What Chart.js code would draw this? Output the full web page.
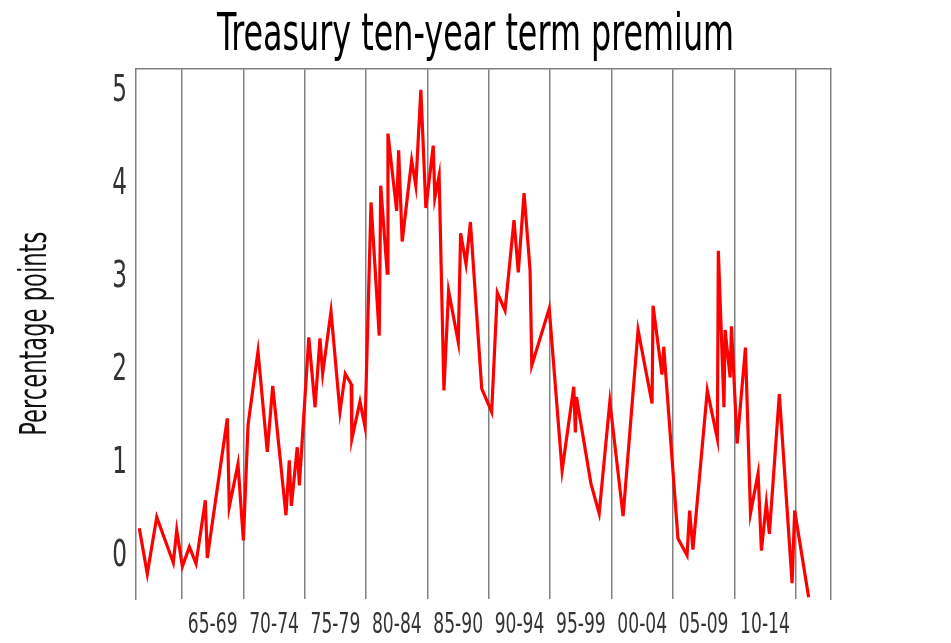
<!DOCTYPE html>
<html>
<head>
<meta charset="utf-8">
<title>Treasury ten-year term premium</title>
<script src="https://cdn.jsdelivr.net/npm/chart.js@4.4.1/dist/chart.umd.min.js"></script>
<style>
    html, body { margin: 0; padding: 0; background: #fff; }
    #wrap { width: 951px; height: 643px; }
</style>
</head>
<body>
<div id="wrap"><canvas id="premiumChart"></canvas></div>
<script>
// Datas (anos decimais) e prêmio de prazo
const years = [
    1961.52, 1962.17, 1962.94, 1964.29, 1964.57, 1965.03, 1965.60, 1966.14, 1966.90, 1967.06,
    1968.69, 1968.85, 1969.56, 1970.00, 1970.38, 1971.19, 1971.95, 1972.39, 1973.47, 1973.74,
    1973.91, 1974.39, 1974.56, 1975.33, 1975.84, 1976.24, 1976.46, 1977.14, 1977.87, 1978.30,
    1978.78, 1978.84, 1979.50, 1979.91, 1980.40, 1981.07, 1981.19, 1981.72, 1981.78, 1982.49,
    1982.65, 1982.94, 1983.71, 1984.05, 1984.46, 1984.87, 1985.47, 1985.60, 1985.95, 1986.34,
    1986.72, 1987.51, 1987.70, 1988.14, 1988.50, 1989.42, 1990.23, 1990.69, 1991.32, 1992.05,
    1992.40, 1992.87, 1993.36, 1993.50, 1994.92, 1995.97, 1996.92, 1997.05, 1997.14, 1998.32,
    1998.99, 1999.86, 2000.94, 2002.16, 2003.30, 2003.38, 2004.11, 2004.25, 2005.41, 2006.15,
    2006.36, 2006.63, 2007.80, 2008.62, 2008.70, 2009.16, 2009.25, 2009.66, 2009.77, 2010.23,
    2010.91, 2011.32, 2011.94, 2012.21, 2012.61, 2012.86, 2013.67, 2014.71, 2014.92, 2016.06
];
const premium = [
    0.30, -0.19, 0.42, -0.07, 0.28, -0.11, 0.10, -0.08, 0.60, -0.02,
    1.48, 0.53, 0.99, 0.17, 1.41, 2.20, 1.12, 1.83, 0.44, 1.03,
    0.54, 1.17, 0.76, 2.35, 1.60, 2.34, 1.96, 2.63, 1.55, 1.96,
    1.85, 1.26, 1.66, 1.39, 3.80, 2.37, 3.98, 3.04, 4.54, 3.71,
    4.36, 3.38, 4.25, 3.98, 5.01, 3.74, 4.41, 3.85, 4.09, 1.78,
    2.85, 2.30, 3.47, 3.14, 3.59, 1.80, 1.55, 2.83, 2.64, 3.61,
    3.05, 3.90, 3.07, 2.05, 2.66, 0.92, 1.82, 1.33, 1.71, 0.78,
    0.46, 1.66, 0.43, 2.43, 1.64, 2.69, 1.95, 2.25, 0.19, 0.01,
    0.49, 0.07, 1.78, 1.26, 3.28, 1.60, 2.43, 1.92, 2.47, 1.21,
    2.24, 0.46, 0.89, 0.06, 0.57, 0.24, 1.74, -0.29, 0.49, -0.44
];

// Eixos: linhas verticais a cada 5 anos, rótulos no meio de cada período
const gridYears = [1965, 1970, 1975, 1980, 1985, 1990, 1995, 2000, 2005, 2010, 2015];
const labelYears = [1967.5, 1972.5, 1977.5, 1982.5, 1987.5, 1992.5, 1997.5, 2002.5, 2007.5, 2012.5];
const periodLabels = ['65-69', '70-74', '75-79', '80-84', '85-90', '90-94', '95-99', '00-04', '05-09', '10-14'];
const yTicks = [0, 1, 2, 3, 4, 5];
const xMin = 1961.25, xMax = 2017.88;
const yMin = -0.46, yMax = 5.24;

const FONT = "'DejaVu Sans Condensed', 'DejaVu Sans', sans-serif";
const LINE_GRAY = '#808080';

const ctx = document.getElementById('premiumChart').getContext('2d');

// Sem fonte estreita instalada: o texto é comprimido na horizontal
const TEXT_CONDENSE = 0.68;
const nativeFillText = ctx.fillText.bind(ctx);
ctx.fillText = (text, x, y, maxWidth) => {
    const w = ctx.measureText(text).width * TEXT_CONDENSE;
    nativeFillText(text, x, y, maxWidth === undefined ? w : Math.min(w, maxWidth));
};

new Chart(ctx, {
    type: 'line',
    data: {
        datasets: [{
            label: 'Term premium',
            data: years.map((x, i) => ({ x: x, y: premium[i] })),
            borderColor: '#ff0000',
            borderWidth: 3.2,
            pointRadius: 0,
            tension: 0,
            fill: false,
            xAxisID: 'x',
            yAxisID: 'y'
        }]
    },
    options: {
        responsive: true,
        maintainAspectRatio: false,
        animation: false,
        layout: {
            padding: 0
        },
        plugins: {
            legend: { display: false },
            tooltip: { enabled: false },
            title: {
                display: true,
                text: 'Treasury ten-year term premium',
                color: '#000',
                font: { family: FONT, size: 52, weight: 'normal' },
                padding: { top: 5, bottom: 1 }
            }
        },
        scales: {
            x: {
                type: 'linear',
                position: 'bottom',
                min: xMin,
                max: xMax,
                afterBuildTicks: scale => {
                    scale.ticks = labelYears.map(v => ({ value: v }));
                },
                afterFit: scale => { scale.height = 44; },
                ticks: {
                    autoSkip: false,
                    maxRotation: 0,
                    padding: 10,
                    color: '#333',
                    font: { family: FONT, size: 28 },
                    callback: (value, index) => periodLabels[index]
                },
                grid: { display: false, drawTicks: false },
                border: { display: false }
            },
            xGrid: {
                type: 'linear',
                position: 'top',
                min: xMin,
                max: xMax,
                afterBuildTicks: scale => {
                    scale.ticks = gridYears.map(v => ({ value: v }));
                },
                ticks: { display: false },
                grid: { display: true, color: LINE_GRAY, lineWidth: 1.5, drawTicks: false },
                border: { display: true, color: LINE_GRAY, width: 1.5 }
            },
            y: {
                type: 'linear',
                position: 'left',
                min: yMin,
                max: yMax,
                afterBuildTicks: scale => {
                    scale.ticks = yTicks.map(v => ({ value: v }));
                },
                afterFit: scale => { scale.width = 136; },
                ticks: {
                    padding: 9,
                    color: '#333',
                    font: { family: FONT, size: 38 }
                },
                grid: { display: false, drawTicks: false },
                border: { display: true, color: LINE_GRAY, width: 1.5 },
                title: {
                    display: true,
                    text: 'Percentage points',
                    color: '#111',
                    font: { family: FONT, size: 37 },
                    padding: { top: 14, bottom: 10 }
                }
            },
            yRight: {
                type: 'linear',
                position: 'right',
                min: yMin,
                max: yMax,
                afterFit: scale => { scale.width = 120; },
                ticks: { display: false },
                grid: { display: false, drawTicks: false },
                border: { display: true, color: LINE_GRAY, width: 1.5 }
            }
        }
    }
});
</script>
</body>
</html>
